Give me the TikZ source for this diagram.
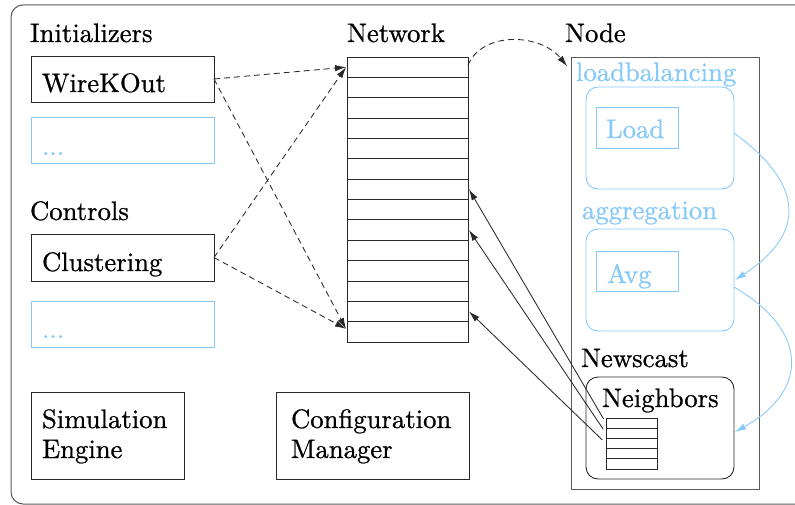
\documentclass[tikz,border=0pt]{standalone}
\usepackage{fontspec}
\newfontfamily\diagfont{lmroman10-regular}[Extension=.otf, FakeBold=0.8]
\usetikzlibrary{arrows.meta}
\definecolor{skyline}{RGB}{135,202,250}
\definecolor{framegray}{RGB}{90,90,90}
\definecolor{ink}{RGB}{40,40,40}

\begin{document}
\begin{tikzpicture}[x=1pt,y=-1pt,
  font=\diagfont\fontsize{26.7}{30}\selectfont,
  box/.style={draw=ink, line width=0.9pt, inner sep=0pt, outer sep=0pt, anchor=north west},
  bluebox/.style={box, draw=skyline},
  roundbox/.style={box, rounded corners=12pt},
  cell/.style={draw=ink, line width=0.9pt, inner sep=0pt, outer sep=0pt},
  lbl/.style={anchor=base west, inner sep=0pt, outer sep=0pt},
  bluelbl/.style={lbl, text=skyline},
  dashline/.style={draw=ink, line width=0.85pt, dash pattern=on 6pt off 4pt,
    -{Latex[length=11pt,width=6.5pt]}},
  solidarrow/.style={draw=ink, line width=0.85pt, -{Latex[length=11pt,width=6.5pt]}},
  bluearrow/.style={draw=skyline, line width=0.85pt, -{Latex[length=11pt,width=6.5pt]}}
]
\useasboundingbox (0,0) rectangle (795,505);
\fill[white] (0,0) rectangle (795,505);

% outer frame (continues past the right edge)
\draw[framegray, line width=1pt, rounded corners=12pt] (11,5) rectangle (840,504);

% left column
\node[lbl] (tinit) at (30,42) {Initializers};
\node[box, minimum width=183pt, minimum height=46pt] (wire) at (31,56) {};
\node[lbl] (twire) at (42,92) {WireKOut};
\node[bluebox, minimum width=183pt, minimum height=46pt] (more1) at (31,117) {};
\node[bluelbl] (tmore1) at (42,155) {...};

\node[lbl] (tctrl) at (30,220) {Controls};
\node[box, minimum width=183pt, minimum height=47pt] (clus) at (31,234) {};
\node[lbl] (tclus) at (42,271) {Clustering};
\node[bluebox, minimum width=183pt, minimum height=46pt] (more2) at (31,301) {};
\node[bluelbl] (tmore2) at (42,338) {...};

\node[box, minimum width=153pt, minimum height=87pt] (sim) at (31,392) {};
\node[lbl] (tsim1) at (42,428) {Simulation};
\node[lbl] (tsim2) at (42,458) {Engine};

\node[box, minimum width=193pt, minimum height=87pt] (conf) at (276,392) {};
\node[lbl] (tconf1) at (291,428) {Configuration};
\node[lbl] (tconf2) at (291,458) {Manager};

% network table
\node[lbl] (tnet) at (347,42) {Network};
\foreach \i in {1,...,14}
  \node[cell, minimum width=121pt, minimum height=20.36pt] (n\i) at (407.5,{46.82+20.36*\i}) {};

% node panel
\node[lbl] (tnode) at (565,42) {Node};
\node[box, draw=framegray, minimum width=188pt, minimum height=432pt] (nodebox) at (571,57) {};

\node[bluelbl] (tlb) at (576,81) {loadbalancing};
\node[bluebox, rounded corners=12pt, minimum width=148pt, minimum height=102pt] (lb) at (586,87) {};
\node[bluebox, minimum width=82pt, minimum height=41pt] (load) at (596,107) {};
\node[bluelbl] (tload) at (606,138) {Load};

\node[bluelbl] (tagg) at (582,219) {aggregation};
\node[bluebox, rounded corners=12pt, minimum width=148pt, minimum height=102pt] (agg) at (586,229) {};
\node[bluebox, minimum width=82pt, minimum height=40pt] (avg) at (596,251) {};
\node[bluelbl] (tavg) at (607,283) {Avg};

\node[lbl] (tnews) at (581,367) {Newscast};
\node[roundbox, minimum width=148pt, minimum height=102pt] (nb) at (586,377) {};
\node[lbl] (tnb) at (602,407) {Neighbors};
\foreach \i in {1,...,5}
  \node[cell, minimum width=51pt, minimum height=10.2pt] (m\i) at (631.5,{412.9+10.2*\i}) {};

% dashed links into the network
\draw[dashline] (wire.east) -- ([xshift=-1pt]n1.west);
\draw[dashline] (clus.east) -- ([xshift=-1pt]n1.west);
\draw[dashline] (wire.east) -- ([xshift=-1pt,yshift=3pt]n14.west);
\draw[dashline] (clus.east) -- ([xshift=-1pt,yshift=3pt]n14.west);

% network to node
\draw[dashline, shorten >=6pt] ([yshift=2pt]n1.east) .. controls +(14,-34) and +(-31,-38) .. ([yshift=-14pt]nodebox.north west);

% neighbor entries pointing into the network
\draw[solidarrow, shorten <=5pt] (m1.west) -- ([xshift=1pt]n7.east);
\draw[solidarrow, shorten <=5pt] (m2.west) -- ([xshift=1pt]n9.east);
\draw[solidarrow, shorten <=5pt] (m3.west) -- ([xshift=1pt]n13.east);

% protocol dependencies
\draw[bluearrow] ([yshift=5pt]lb.east) .. controls +(70,51) and +(72,-47) .. ([xshift=1pt]agg.east);
\draw[bluearrow] ([yshift=-7pt]agg.east) .. controls +(74,43) and +(75,-42) .. ([xshift=1pt,yshift=-4pt]nb.east);
\end{tikzpicture}
\end{document}
